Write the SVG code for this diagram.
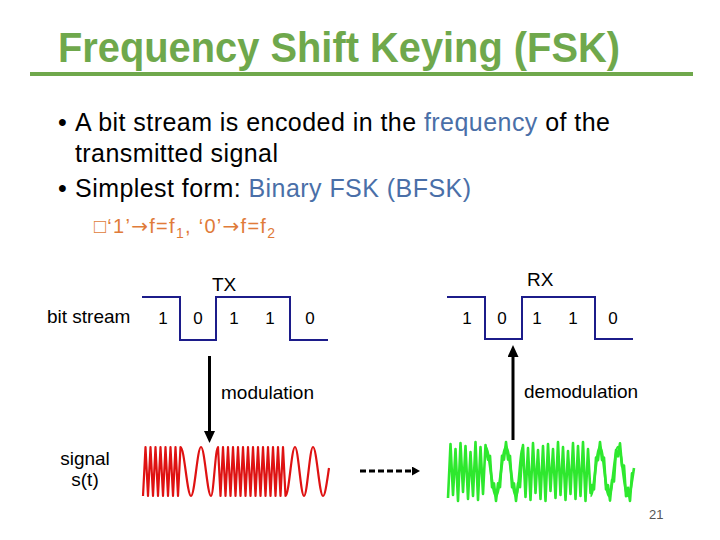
<svg xmlns="http://www.w3.org/2000/svg" width="720" height="540" viewBox="0 0 720 540">
<defs>
<style>
text{font-family:"Liberation Sans",Arial,sans-serif;}
.title{font-weight:bold;font-size:42px;fill:#6fa84c}
.body{font-size:25px;fill:#000}
.blue{fill:#4a6fa8}
.sub{font-size:20px;fill:#e07b39}
.arr{font-family:"DejaVu Sans",sans-serif}
.lbl{font-size:19px;fill:#000}
.dig{font-size:17px;fill:#000;text-anchor:middle}
.sq{fill:none;stroke:#1c1c8a;stroke-width:2}
.red{fill:none;stroke:#df1212;stroke-width:2.2;stroke-linejoin:round}
.green{fill:none;stroke:#2ee82e;stroke-width:2.6;stroke-linejoin:round}
.conn{stroke:#000;stroke-width:3;fill:none}
</style>
<marker id="ah" markerUnits="userSpaceOnUse" markerWidth="13" markerHeight="12" refX="4" refY="5.5" orient="auto">
<path d="M0,0 L12,5.5 L0,11 z" fill="#000"/>
</marker>
<marker id="ahs" markerUnits="userSpaceOnUse" markerWidth="10" markerHeight="10" refX="2" refY="4.5" orient="auto">
<path d="M0,0 L8,4.5 L0,9 z" fill="#000"/>
</marker>
</defs>
<rect width="720" height="540" fill="#fff"/>

<g id="title">
<text class="title" x="58" y="62" textLength="562" lengthAdjust="spacingAndGlyphs">Frequency Shift Keying (FSK)</text>
<rect x="30" y="72" width="663" height="4" fill="#6fa84c"/>
</g>

<g id="bullets">
<text class="body" x="58" y="131">•</text>
<text class="body" x="75" y="131" textLength="535">A bit stream is encoded in the <tspan class="blue">frequency</tspan> of the</text>
<text class="body" x="75" y="162" textLength="203">transmitted signal</text>
<text class="body" x="58" y="197">•</text>
<text class="body" x="75" y="197" textLength="396">Simplest form: <tspan class="blue">Binary FSK (BFSK)</tspan></text>
<text class="sub" x="94" y="233" textLength="181">□‘1’<tspan class="arr">→</tspan>f=f<tspan font-size="14" dy="5">1</tspan><tspan dy="-5">, ‘0’</tspan><tspan class="arr">→</tspan>f=f<tspan font-size="14" dy="5">2</tspan></text>
</g>

<g id="tx">
<text class="lbl" x="212" y="291">TX</text>
<text class="lbl" x="47" y="323">bit stream</text>
<polyline class="sq" points="142,297 180,297 180,340 216,340 216,297 290,297 290,340 328,340"/>
<text class="dig" x="163" y="324">1</text>
<text class="dig" x="198" y="324">0</text>
<text class="dig" x="234" y="324">1</text>
<text class="dig" x="270" y="324">1</text>
<text class="dig" x="310" y="324">0</text>
</g>

<g id="rx">
<text class="lbl" x="527" y="286">RX</text>
<polyline class="sq" points="447,297 485,297 485,339 522,339 522,297 595,297 595,339 633,339"/>
<text class="dig" x="467" y="324">1</text>
<text class="dig" x="502" y="324">0</text>
<text class="dig" x="537" y="324">1</text>
<text class="dig" x="573" y="324">1</text>
<text class="dig" x="613" y="324">0</text>
</g>

<g id="modulation">
<text class="lbl" x="221" y="399">modulation</text>
</g>
<g id="demodulation">
<text class="lbl" x="524" y="398">demodulation</text>
</g>

<g id="signal-label">
<text class="lbl" x="85" y="465" text-anchor="middle">signal</text>
<text class="lbl" x="85" y="486" text-anchor="middle">s(t)</text>
</g>

<g id="signal-tx">
<path class="red" d="M143,496 l2.5,-49 2.5,49 2.5,-49 2.5,49 2.5,-49 2.5,49 2.5,-49 2.5,49 2.5,-49 2.5,49 2.5,-49 2.5,49 2.5,-49 2.5,49 2.5,-49
c3.8,0 6.7,49 10.5,49 c3.64,0 6.36,-49 10,-49 c3.64,0 6.36,49 10,49 c2.55,0 4.45,-49 7,-49
l2.5,49 2.5,-49 2.5,49 2.5,-49 2.5,49 2.5,-49 2.5,49 2.5,-49 2.5,49 2.5,-49 2.5,49 2.5,-49 2.5,49 2.5,-49 2.5,49 2.5,-49 2.5,49 2.5,-49 2.5,49 2.5,-49 2.5,49 2.5,-49 2.5,49 2.5,-49 2.5,49 2.5,-49 2.5,49
c3.46,0 6.04,-49 9.5,-49 c3.28,0 5.72,49 9,49 c3.28,0 5.72,-49 9,-49 c3.64,0 6.36,49 10,49 c2.2,0 4,-15 6,-28"/>
</g>

<g id="signal-rx">
<path class="green" d="M448,498 L450.5,444 453,495 455.5,449 458,501 460.5,443 463,492 465.5,446 468,499 470.5,452 473,496 475.5,442 478,500 480.5,447 483,494 485.5,445
488,459.7 490,455.9 492,487.1 494,483.3 496,501 498,483.3 500,487.1 502,455.9 504,459.7 506,442 508,459.7 510,455.9 512,487.1 514,483.3 516,501 518,483.3 520,487.1 522,455.9
523,445 525.5,497 528,448 530.5,500 533,443 535.5,493 538,450 540.5,499 543,446 545.5,501 548,444 550.5,491 553,449 555.5,498 558,442 560.5,495 563,447 565.5,500 568,451 570.5,494 573,443 575.5,499 578,446 580.5,496 583,442 585.5,501 588,449 590.5,493
592,485.1 594,489.3 596,457.5 598,460.2 600,442 602,460.2 604,457.5 606,489.3 608,485.1 610,500.7 612,480.1 614,481.5 616,450.1 618,456.3 620,443.3 622,466.1 624,465.5 626,496.1 628,487.7 630,501 632,473.3 634,473.5"/>
<path class="green" d="M485.5,447 c3.8,0 6.7,49 10.5,49 c3.64,0 6.36,-49 10,-49 c3.64,0 6.36,49 10,49 c2.55,0 4.45,-49 7,-49"/>
<path class="green" d="M590.5,496 c3.46,0 6.04,-49 9.5,-49 c3.28,0 5.72,49 9,49 c3.28,0 5.72,-49 9,-49 c3.64,0 6.36,49 10,49 c2.2,0 4,-15 6,-28"/>
</g>

<g id="connectors">
<line class="conn" x1="209.5" y1="356" x2="209.5" y2="435" marker-end="url(#ah)"/>
<line class="conn" x1="513" y1="440" x2="513" y2="353" marker-end="url(#ah)"/>
<line class="conn" x1="360" y1="471" x2="414" y2="471" stroke-dasharray="6,3" marker-end="url(#ahs)"/>
</g>

<g id="page-number">
<text x="649" y="519" font-size="13" fill="#555">21</text>
</g>
</svg>
